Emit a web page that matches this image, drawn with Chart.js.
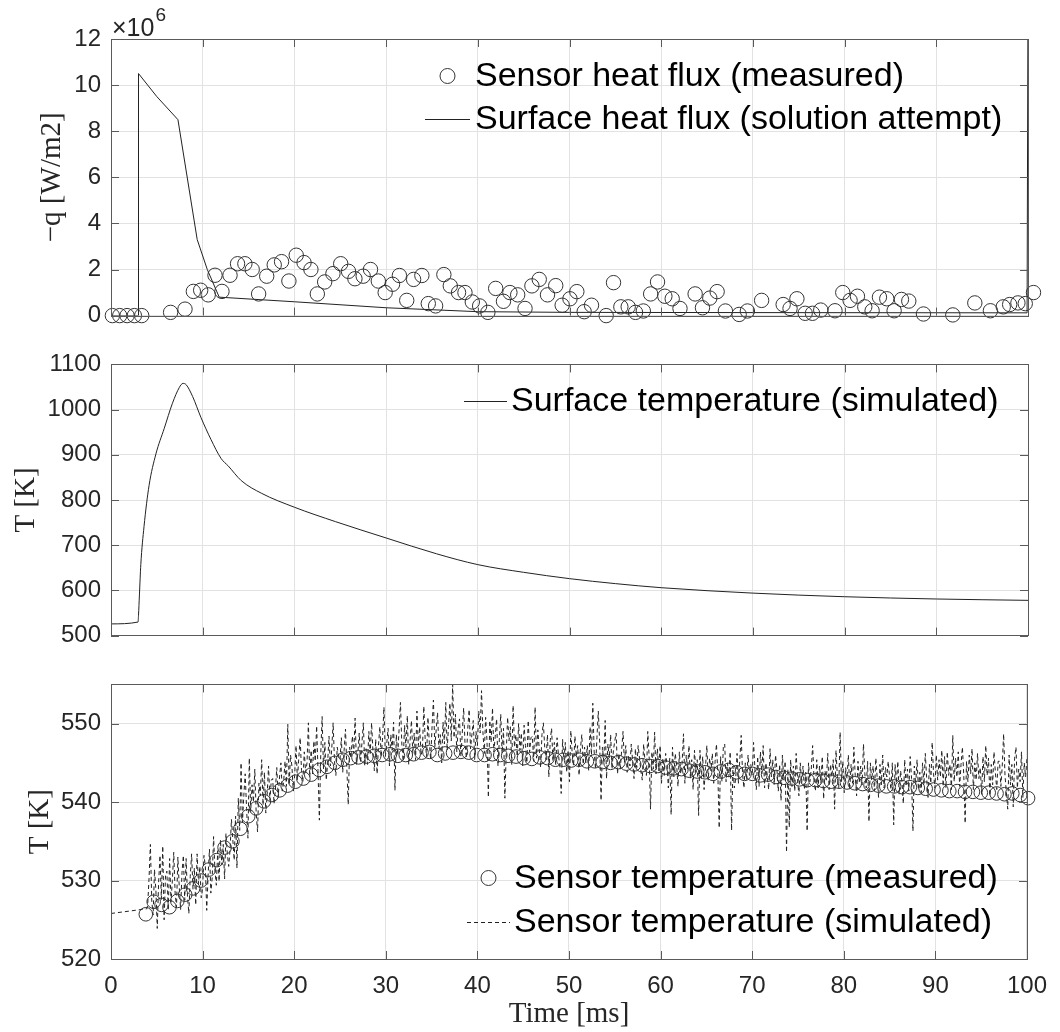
<!DOCTYPE html>
<html>
<head>
<meta charset="utf-8">
<title>Heat flux and temperature</title>
<script src="https://cdn.jsdelivr.net/npm/chart.js@4.4.1/dist/chart.umd.min.js"></script>
<style>
    body { margin: 0; background: #ffffff; }
    .panel { position: absolute; left: 0; }
    canvas { display: block; }
</style>
</head>
<body>
<div class="panel" style="top:0"><canvas id="flux-chart" width="1060" height="340"></canvas></div>
<div class="panel" style="top:340px"><canvas id="surface-chart" width="1060" height="320"></canvas></div>
<div class="panel" style="top:660px"><canvas id="sensor-chart" width="1060" height="372"></canvas></div>
<script>
// Sensor heat flux (measured), units of 1e6 W/m2
const fluxMeasTime = [0.15, 0.95, 1.75, 2.55, 3.35, 6.5, 8.07, 8.98, 9.78, 10.6,
    11.34, 12.1, 12.98, 13.8, 14.6, 15.4, 16.1, 16.98, 17.8, 18.6,
    19.4, 20.2, 21.05, 21.8, 22.5, 23.3, 24.2, 25.05, 25.9, 26.6,
    27.5, 28.3, 29.15, 29.9, 30.7, 31.45, 32.25, 33.0, 33.9, 34.6,
    35.4, 36.3, 37.0, 37.9, 38.6, 39.4, 40.2, 41.1, 41.95, 42.8,
    43.5, 44.35, 45.15, 45.9, 46.7, 47.6, 48.5, 49.2, 50.05, 50.8,
    51.6, 52.4, 54.0, 54.8, 55.6, 56.4, 57.2, 58.05, 58.85, 59.6,
    60.4, 61.2, 62.05, 63.7, 64.5, 65.3, 66.1, 67.0, 68.5, 69.4,
    70.95, 73.3, 74.05, 74.8, 75.7, 76.5, 77.4, 78.95, 79.8, 80.6,
    81.4, 82.2, 83.0, 83.8, 84.6, 85.4, 86.2, 87.0, 88.6, 91.8,
    94.2, 95.9, 97.3, 98.0, 98.9, 99.7, 100.6];
const fluxMeasValues = [0, 0, 0, 0, 0, 0.14, 0.28, 1.05, 1.1, 0.9,
    1.75, 1.05, 1.75, 2.25, 2.25, 2.0, 0.94, 1.71, 2.2, 2.34,
    1.5, 2.62, 2.3, 2.0, 0.94, 1.46, 1.82, 2.25, 1.92, 1.6,
    1.71, 2.0, 1.5, 1.0, 1.36, 1.74, 0.66, 1.57, 1.74, 0.52,
    0.42, 1.78, 1.29, 1.0, 1.0, 0.59, 0.42, 0.14, 1.18, 0.62,
    1.0, 0.9, 0.31, 1.29, 1.57, 0.9, 1.3, 0.45, 0.73, 1.04,
    0.17, 0.45, 0.0, 1.43, 0.38, 0.38, 0.14, 0.2, 0.94, 1.46,
    0.84, 0.73, 0.31, 0.94, 0.34, 0.76, 1.04, 0.2, 0.05, 0.2,
    0.66, 0.48, 0.31, 0.73, 0.1, 0.1, 0.24, 0.21, 1.0, 0.66,
    0.84, 0.38, 0.21, 0.8, 0.73, 0.21, 0.7, 0.63, 0.07, 0.03,
    0.55, 0.21, 0.38, 0.48, 0.55, 0.52, 1.0];

// Surface heat flux (solution attempt)
const fluxSolTime = [0, 2.95, 3.0, 5.0, 7.3, 9.4, 10.5, 11.8, 20, 30, 40, 50, 70, 99.9, 100];
const fluxSolValues = [0, 0, 10.5, 9.5, 8.5, 3.3, 2.0, 0.8, 0.6, 0.34, 0.17, 0.14, 0.13, 0.12, 14];

// Surface temperature (simulated), K
const surfTempTime = [0, 2.95, 3.0, 3.1, 3.25, 3.6, 4.15, 4.9, 5.8, 6.7, 7.45, 7.85, 8.2, 8.9, 9.8,
    10.9, 12.0, 12.8, 14.2, 16.4, 20, 24.5, 30, 35.5, 40, 45, 50, 55, 60, 70, 80, 90, 100];
const surfTempValues = [525.9, 530, 545, 590, 657, 741, 832, 902, 958, 1014, 1049, 1058, 1055, 1029, 983,
    934, 892, 875, 843, 815, 784, 752, 716, 681, 657, 640, 626, 615, 606, 594, 586, 581, 578];

// Sensor temperature (measured), K, sampled every 0.86 ms from 3.8 ms
const sensorMeasStart = 3.8;
const sensorMeasStep = 0.86;
const sensorMeasValues = [525.7, 527.3, 526.9, 526.6, 527.4, 528.2, 529.0, 530.0, 531.4, 532.6,
    534.2, 535.0, 536.6, 538.2, 539.2, 540.1, 540.9, 541.5, 542.1, 542.6,
    543.0, 543.5, 544.1, 544.5, 545.0, 545.4, 545.6, 545.7, 545.8, 545.9,
    546.0, 546.1, 545.9, 546.0, 546.1, 546.3, 546.4, 546.0, 546.2, 546.3,
    546.4, 546.3, 546.0, 546.0, 546.1, 546.0, 545.9, 545.8, 545.6, 545.5,
    545.7, 545.6, 545.4, 545.4, 545.3, 545.4, 545.2, 545.2, 545.1, 545.0,
    545.1, 544.9, 544.8, 544.7, 544.6, 544.6, 544.4, 544.3, 544.2, 544.0,
    543.9, 543.8, 543.6, 543.9, 544.1, 543.8, 543.6, 543.6, 543.4, 543.5,
    543.2, 543.1, 543.0, 542.9, 542.8, 542.8, 542.7, 542.6, 542.6, 542.5,
    542.4, 542.3, 542.2, 542.1, 542.0, 542.0, 541.9, 541.9, 541.8, 541.7,
    541.6, 541.5, 541.4, 541.4, 541.3, 541.3, 541.2, 541.2, 541.1, 541.0,
    541.1, 540.9, 540.5];

// Sensor temperature (simulated), K: quiet start, then samples every 0.15 ms from 4.0 ms
const simLeadTime = [0, 3.9];
const simLeadValues = [525.8, 526.4];
const simStart = 4.0;
const simStep = 0.15;
const simValues = [
    526.8, 530.2, 534.6, 527.4, 525.6, 531.4, 528.8, 523.9, 529.8, 533.2, 527.6, 534.4, 525.0, 530.6, 531.2, 526.2, 532.8, 527.3, 530.0, 533.6,
    528.4, 526.6, 533.0, 529.2, 526.3, 531.0, 533.2, 527.5, 532.8, 528.0, 525.8, 530.5, 533.4, 528.9, 531.6, 526.9, 533.4, 529.6, 531.8, 527.8,
    529.0, 533.2, 531.8, 526.2, 530.6, 534.0, 528.4, 530.4, 535.6, 531.2, 529.4, 533.8, 529.9, 535.2, 532.0, 534.6, 530.2, 536.0, 533.4, 531.8,
    534.0, 537.8, 535.2, 532.6, 538.2, 531.6, 540.5, 536.4, 545.0, 537.4, 540.8, 543.6, 539.2, 535.4, 545.6, 538.8, 542.2, 540.0, 544.2, 538.6,
    536.2, 542.4, 540.8, 545.4, 539.6, 543.8, 538.6, 541.0, 544.6, 540.2, 542.8, 543.0, 539.8, 541.6, 544.4, 540.6, 543.2, 545.0, 541.4, 542.6,
    545.2, 542.0, 549.9, 542.2, 546.0, 544.6, 541.4, 543.4, 547.2, 542.8, 545.6, 548.2, 544.0, 542.6, 546.4, 543.8, 545.0, 550.1, 543.2, 546.6,
    543.6, 547.8, 545.2, 549.7, 544.0, 537.7, 546.2, 550.9, 544.2, 547.6, 542.8, 545.0, 548.4, 544.6, 546.8, 550.1, 545.2, 543.4, 547.0, 545.8,
    545.4, 548.2, 543.8, 546.6, 549.3, 544.2, 539.7, 547.0, 545.6, 548.4, 546.2, 550.7, 544.8, 546.2, 548.8, 545.0, 547.6, 550.1, 544.6, 546.8,
    544.8, 549.0, 546.2, 550.1, 546.4, 544.0, 548.0, 543.6, 547.2, 549.6, 545.8, 548.2, 552.1, 545.8, 547.4, 549.4, 544.6, 548.6, 546.6, 550.2,
    541.5, 548.6, 546.0, 549.2, 552.7, 547.4, 545.2, 549.8, 547.0, 551.0, 544.8, 547.8, 550.4, 546.2, 548.8, 545.4, 551.6, 547.2, 549.6, 546.0,
    546.6, 552.2, 548.0, 545.8, 550.8, 547.6, 545.4, 549.6, 553.0, 547.0, 549.2, 551.4, 546.8, 548.6, 545.0, 550.2, 547.4, 552.7, 546.6, 549.8,
    552.6, 547.8, 555.0, 548.2, 551.2, 546.4, 549.4, 550.6, 545.8, 548.8, 552.0, 547.4, 545.6, 549.4, 551.8, 546.8, 548.6, 550.4, 545.4, 549.0,
    547.2, 551.6, 548.8, 554.2, 549.0, 546.2, 550.8, 547.8, 540.6, 550.4, 547.6, 552.0, 546.4, 548.4, 550.6, 544.6, 548.0, 551.2, 546.2, 549.4,
    540.5, 546.4, 550.8, 547.8, 549.6, 544.8, 552.3, 547.0, 548.6, 545.8, 550.0, 546.6, 548.8, 544.6, 549.8, 547.2, 545.0, 550.4, 546.4, 548.2,
    548.4, 545.2, 552.1, 545.6, 549.2, 546.8, 544.4, 548.6, 550.1, 547.0, 545.4, 548.6, 543.2, 547.8, 549.4, 545.2, 547.6, 544.8, 548.2, 546.0,
    544.6, 541.1, 548.0, 545.4, 547.6, 543.8, 546.6, 542.6, 549.1, 546.2, 544.6, 548.4, 545.8, 547.2, 543.4, 546.8, 548.6, 544.8, 547.0, 545.0,
    547.2, 544.0, 549.6, 546.0, 552.6, 546.4, 544.2, 548.2, 551.6, 547.6, 540.2, 547.0, 545.2, 550.4, 543.0, 547.4, 545.6, 548.6, 544.2, 546.6,
    547.8, 548.8, 543.6, 546.2, 544.2, 546.6, 549.0, 545.0, 547.2, 543.8, 546.0, 544.6, 547.4, 545.2, 543.0, 546.8, 544.4, 547.2, 545.6, 544.0,
    542.8, 547.4, 545.2, 543.4, 549.0, 545.8, 539.1, 546.4, 544.2, 548.9, 543.6, 546.8, 544.0, 547.2, 542.4, 545.6, 543.4, 546.2, 544.8, 541.8,
    545.6, 538.4, 547.0, 543.2, 546.2, 544.8, 542.0, 546.4, 543.6, 545.0, 548.7, 542.4, 546.0, 544.2, 547.2, 543.0, 545.4, 541.6, 546.6, 543.8,
    545.4, 538.3, 546.6, 543.0, 545.8, 541.6, 544.4, 547.2, 542.8, 545.6, 544.0, 546.2, 542.4, 545.2, 547.4, 543.6, 536.7, 545.8, 542.6, 547.0,
    547.4, 542.6, 545.0, 543.2, 546.4, 536.4, 544.6, 541.8, 543.0, 546.2, 542.4, 545.4, 548.5, 543.6, 541.8, 545.0, 542.8, 546.0, 543.4, 544.8,
    543.4, 547.6, 544.2, 541.6, 545.8, 542.0, 546.4, 543.6, 547.2, 541.8, 545.0, 543.2, 541.6, 546.8, 543.2, 545.4, 542.2, 546.0, 544.2, 541.4,
    544.8, 540.2, 546.0, 542.8, 545.2, 533.6, 544.2, 536.8, 545.4, 542.0, 544.6, 541.4, 546.2, 543.0, 540.8, 545.0, 542.4, 544.6, 541.6, 543.8,
    536.3, 545.0, 542.6, 544.2, 547.2, 543.0, 541.4, 545.4, 541.8, 544.6, 542.4, 545.8, 540.4, 544.0, 542.8, 546.2, 541.6, 544.8, 543.2, 545.4,
    539.1, 546.6, 543.2, 541.8, 548.9, 542.6, 545.2, 541.2, 544.4, 543.0, 546.0, 541.6, 544.8, 542.4, 547.0, 543.4, 540.8, 545.2, 542.6, 544.6,
    542.2, 547.4, 543.6, 541.8, 545.2, 537.5, 545.0, 542.8, 544.6, 541.4, 545.6, 543.0, 540.6, 544.8, 542.2, 546.0, 541.8, 544.4, 543.2, 545.2,
    543.2, 541.6, 545.0, 537.1, 544.8, 542.4, 545.2, 541.0, 544.0, 542.6, 539.8, 545.4, 542.0, 544.2, 541.4, 545.8, 543.0, 536.3, 544.6, 542.2,
    545.4, 541.6, 543.8, 541.2, 545.0, 542.2, 546.2, 543.0, 540.6, 544.8, 542.4, 547.6, 543.6, 541.8, 546.0, 542.8, 545.4, 543.2, 546.6, 542.0,
    545.8, 541.8, 546.4, 543.4, 544.8, 541.6, 548.5, 542.6, 545.6, 543.2, 546.4, 542.0, 544.8, 547.0, 543.4, 537.3, 545.2, 542.6, 546.0, 543.6,
    546.8, 541.6, 545.0, 542.8, 546.2, 543.0, 544.4, 541.0, 545.8, 542.6, 547.2, 543.4, 545.6, 540.8, 544.8, 542.2, 546.4, 543.8, 541.6, 545.2,
    545.2, 542.0, 544.6, 548.7, 543.4, 541.2, 539.1, 546.0, 542.2, 544.8, 539.4, 545.6, 547.0, 541.8, 544.2, 542.6, 546.4, 540.6, 545.0, 543.2,
    545.6];

// Look
const COLORS = {
    ink: '#262626',
    text: '#000000',
    mark: '#333333',
    line: '#222222',
    grid: '#e2e2e2',
    box: '#5a5a5a'
};
const TICK_FONT = { family: '"Liberation Sans", Arial, sans-serif', size: 24 };
const LABEL_FONT = { family: '"Liberation Serif", "Times New Roman", serif', size: 29 };
const LEGEND_FONT = '34px "Liberation Sans", Arial, sans-serif';

function toPoints(times, values) {
    return values.map((v, i) => ({ x: times[i], y: v }));
}

function gridTimes(start, step, count) {
    return Array.from({ length: count }, (_, i) => +(start + i * step).toFixed(3));
}

// Box round the plot area with inward ticks on all four sides
const axesBox = {
    id: 'axesBox',
    afterDraw(chart) {
        const { ctx, chartArea: a, scales } = chart;
        const len = 8;
        ctx.save();
        ctx.strokeStyle = COLORS.box;
        ctx.lineWidth = 1;
        ctx.beginPath();
        scales.x.ticks.forEach(t => {
            const px = Math.round(scales.x.getPixelForValue(t.value)) + 0.5;
            ctx.moveTo(px, a.bottom); ctx.lineTo(px, a.bottom - len);
            ctx.moveTo(px, a.top); ctx.lineTo(px, a.top + len);
        });
        scales.y.ticks.forEach(t => {
            const py = Math.round(scales.y.getPixelForValue(t.value)) + 0.5;
            ctx.moveTo(a.left, py); ctx.lineTo(a.left + len, py);
            ctx.moveTo(a.right, py); ctx.lineTo(a.right - len, py);
        });
        ctx.stroke();
        ctx.strokeRect(Math.round(a.left) + 0.5, Math.round(a.top) + 0.5,
            Math.round(a.right - a.left), Math.round(a.bottom - a.top));
        ctx.restore();
    }
};

// Legend without a frame, drawn inside the plot like the original
const inlineLegend = {
    id: 'inlineLegend',
    afterDraw(chart, args, opts) {
        if (!opts || opts.top === undefined) return;
        const { ctx } = chart;
        ctx.save();
        ctx.font = LEGEND_FONT;
        ctx.fillStyle = COLORS.text;
        ctx.textBaseline = 'middle';
        chart.data.datasets.forEach((ds, i) => {
            const y = opts.top + i * opts.rowGap;
            const x0 = opts.iconLeft;
            const x1 = opts.iconLeft + opts.iconWidth;
            ctx.strokeStyle = ds.borderColor;
            ctx.lineWidth = 1;
            if (ds.showLine === false) {
                ctx.beginPath();
                ctx.arc((x0 + x1) / 2, y, 7.5, 0, Math.PI * 2);
                ctx.stroke();
            } else {
                ctx.setLineDash(ds.borderDash || []);
                ctx.beginPath();
                ctx.moveTo(x0, y + 0.5);
                ctx.lineTo(x1, y + 0.5);
                ctx.stroke();
                ctx.setLineDash([]);
            }
            ctx.fillText(ds.label, x1 + opts.gap, y + 1);
        });
        ctx.restore();
    }
};

// "x10^6" multiplier above the flux axis
const exponentLabel = {
    id: 'exponentLabel',
    afterDraw(chart) {
        const { ctx, chartArea: a } = chart;
        ctx.save();
        ctx.fillStyle = COLORS.ink;
        ctx.textBaseline = 'alphabetic';
        ctx.font = '25px "Liberation Sans", Arial, sans-serif';
        ctx.fillText('\u00d710', a.left + 1, a.top - 3);
        const w = ctx.measureText('\u00d710').width;
        ctx.font = '19px "Liberation Sans", Arial, sans-serif';
        ctx.fillText('6', a.left + 2 + w, a.top - 18);
        ctx.restore();
    }
};

function xAxis(showLabels) {
    return {
        type: 'linear',
        min: 0,
        max: 100,
        ticks: {
            stepSize: 10,
            display: showLabels,
            color: COLORS.ink,
            font: TICK_FONT,
            padding: 13,
            maxRotation: 0,
            callback: value => String(value)
        },
        grid: { color: COLORS.grid, drawTicks: false },
        border: { display: false },
        title: {
            display: showLabels,
            text: 'Time [ms]',
            color: COLORS.ink,
            font: LABEL_FONT,
            padding: { top: 0, bottom: 0 }
        },
        afterFit: scale => { scale.height = showLabels ? 73 : 0; }
    };
}

function yAxis(min, max, step, title, titleOffset) {
    return {
        min,
        max,
        ticks: {
            stepSize: step,
            includeBounds: false,
            color: COLORS.ink,
            font: TICK_FONT,
            padding: 10,
            callback: value => String(value)
        },
        grid: { color: COLORS.grid, drawTicks: false },
        border: { display: false },
        title: {
            display: true,
            text: title,
            color: COLORS.ink,
            font: LABEL_FONT,
            padding: { top: titleOffset, bottom: 0 }
        },
        afterFit: scale => { scale.width = 111; }
    };
}

function baseOptions(padding, scales, legend) {
    return {
        responsive: false,
        animation: false,
        events: [],
        layout: { padding },
        scales,
        plugins: {
            legend: { display: false },
            tooltip: { enabled: false },
            inlineLegend: legend
        }
    };
}

// Top panel: heat flux
new Chart(document.getElementById('flux-chart'), {
    type: 'scatter',
    data: {
        datasets: [{
            label: 'Sensor heat flux (measured)',
            data: toPoints(fluxMeasTime, fluxMeasValues),
            showLine: false,
            pointRadius: 7.2,
            pointBorderWidth: 1,
            pointBorderColor: COLORS.mark,
            pointBackgroundColor: 'rgba(0,0,0,0)',
            borderColor: COLORS.mark,
            clip: false
        }, {
            label: 'Surface heat flux (solution attempt)',
            data: toPoints(fluxSolTime, fluxSolValues),
            showLine: true,
            pointRadius: 0,
            borderWidth: 1,
            borderColor: COLORS.line
        }]
    },
    options: baseOptions({ top: 39, bottom: 16, left: 0, right: 32 }, {
        x: xAxis(false),
        y: yAxis(0, 12, 2, '\u2212q [W/m2]', 35)
    }, { top: 76, rowGap: 43, iconLeft: 425, iconWidth: 45, gap: 5 }),
    plugins: [axesBox, inlineLegend, exponentLabel]
});

// Middle panel: surface temperature
new Chart(document.getElementById('surface-chart'), {
    type: 'scatter',
    data: {
        datasets: [{
            label: 'Surface temperature (simulated)',
            data: toPoints(surfTempTime, surfTempValues),
            showLine: true,
            pointRadius: 0,
            borderWidth: 1,
            borderColor: COLORS.line,
            cubicInterpolationMode: 'monotone'
        }]
    },
    options: baseOptions({ top: 16, bottom: 18, left: 0, right: 32 }, {
        x: xAxis(false),
        y: yAxis(500, 1100, 100, 'T [K]', 9)
    }, { top: 61, rowGap: 43, iconLeft: 464, iconWidth: 43, gap: 4 }),
    plugins: [axesBox, inlineLegend]
});

// Bottom panel: sensor temperature
const sensorMeasTime = gridTimes(sensorMeasStart, sensorMeasStep, sensorMeasValues.length);
const simTime = simLeadTime.concat(gridTimes(simStart, simStep, simValues.length));
const simAll = simLeadValues.concat(simValues);

new Chart(document.getElementById('sensor-chart'), {
    type: 'scatter',
    data: {
        datasets: [{
            label: 'Sensor temperature (measured)',
            data: toPoints(sensorMeasTime, sensorMeasValues),
            showLine: false,
            pointRadius: 6.8,
            pointBorderWidth: 1,
            pointBorderColor: COLORS.mark,
            pointBackgroundColor: 'rgba(0,0,0,0)',
            borderColor: COLORS.mark,
            clip: false
        }, {
            label: 'Sensor temperature (simulated)',
            data: toPoints(simTime, simAll),
            showLine: true,
            pointRadius: 0,
            borderWidth: 1,
            borderColor: COLORS.line,
            borderDash: [4, 3]
        }]
    },
    options: baseOptions({ top: 13, bottom: 0, left: 0, right: 32 }, {
        x: xAxis(true),
        y: yAxis(520, 555, 10, 'T [K]', 23)
    }, { top: 218, rowGap: 44, iconLeft: 467, iconWidth: 43, gap: 4 }),
    plugins: [axesBox, inlineLegend]
});
</script>
</body>
</html>
